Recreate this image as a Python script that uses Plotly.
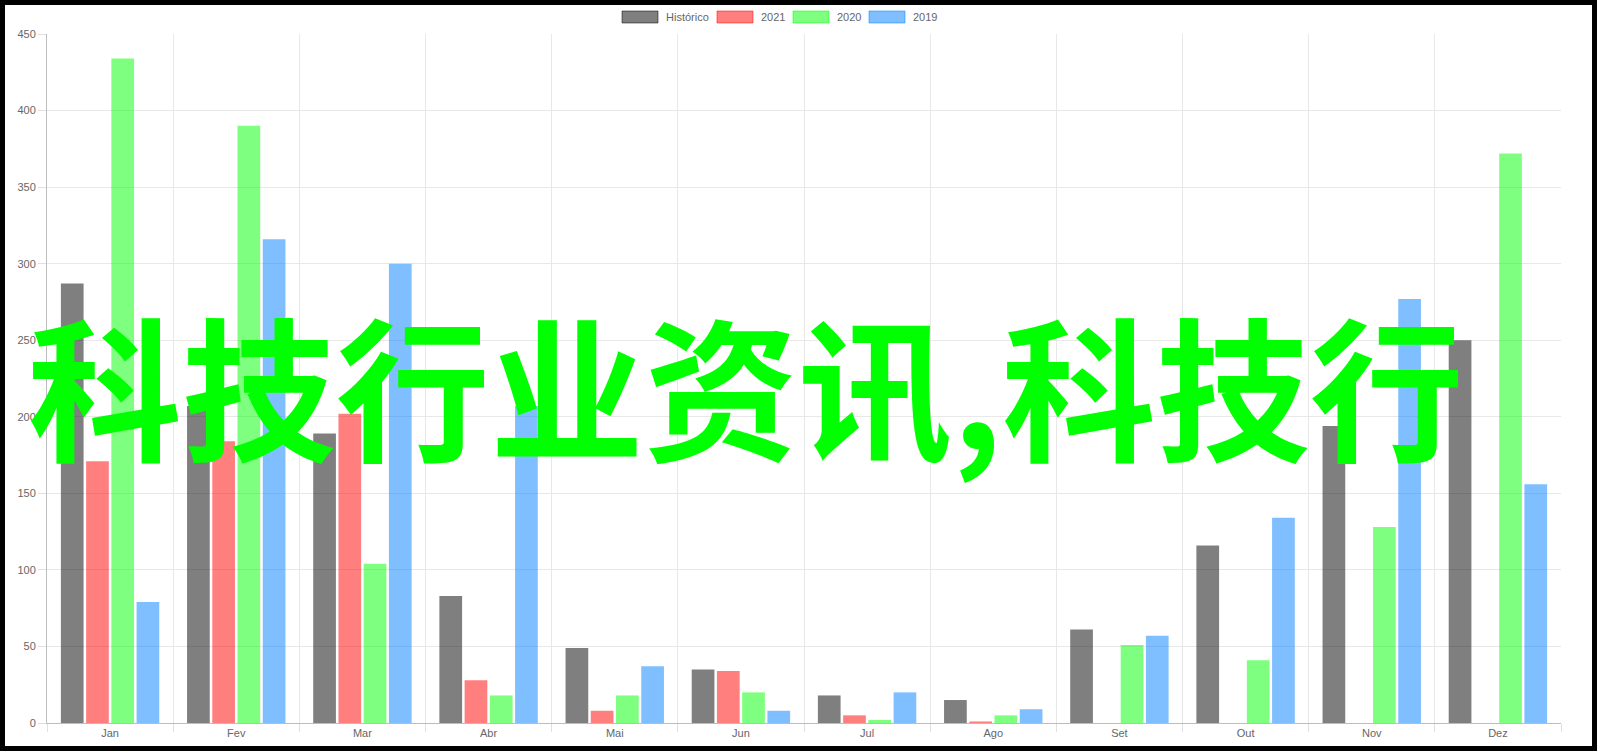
import plotly.graph_objects as go

months = ["Jan", "Fev", "Mar", "Abr", "Mai", "Jun", "Jul", "Ago", "Set", "Out", "Nov", "Dez"]

historico = [287, 207, 189, 83, 49, 35, 18, 15, 61, 116, 194, 250]
ano_2021 = [171, 184, 202, 28, 8, 34, 5, 1, 0, 0, 0, 0]
ano_2020 = [434, 390, 104, 18, 18, 20, 2, 5, 51, 41, 128, 372]
ano_2019 = [79, 316, 300, 207, 37, 8, 20, 9, 57, 134, 277, 156]

series_names = ["Histórico", "2021", "2020", "2019"]
overlay_text = "科技行业资讯,科技行"

colors = ["rgba(0,0,0,0.5)", "rgba(255,0,0,0.5)", "rgba(0,255,0,0.5)", "rgba(0,127,255,0.5)"]

W, H = 1597, 751
ML, MR, MT, MB = 47, 36, 34, 28
PW, PH = W - ML - MR, H - MT - MB


def px(x):
    return (x - ML) / PW


def py(y):
    return 1 - (y - MT) / PH


fig = go.Figure()
for name, vals, color in zip(series_names, [historico, ano_2021, ano_2020, ano_2019], colors):
    fig.add_trace(go.Bar(x=months, y=vals, name=name, showlegend=False,
                         marker=dict(color=color, line=dict(width=0))))

fig.update_layout(
    width=W, height=H,
    margin=dict(l=ML, r=MR, t=MT, b=MB),
    paper_bgcolor="#ffffff",
    plot_bgcolor="#ffffff",
    barmode="group",
    bargap=0.2,
    bargroupgap=0.1,
    font=dict(family="Liberation Sans, Arial, sans-serif", size=11, color="#666666"),
    xaxis=dict(tickson="boundaries", showgrid=True, gridcolor="#e8e8e8",
               ticks="outside", ticklen=8, tickcolor="#e0e0e0",
               showline=True, linecolor="#bdbdbd", linewidth=1),
    yaxis=dict(range=[0, 450], dtick=50, showgrid=True, gridcolor="#e8e8e8",
               ticks="outside", ticklen=8, tickcolor="#e0e0e0",
               showline=True, linecolor="#bdbdbd", linewidth=1,
               zeroline=True, zerolinecolor="#bdbdbd", zerolinewidth=1),
)

# legend drawn by hand (wide colour boxes like the original)
box_x = [622, 717, 793, 869]
for name, color, bx in zip(series_names, colors, box_x):
    fig.add_shape(type="rect", xref="paper", yref="paper",
                  x0=px(bx), x1=px(bx + 36), y0=py(23), y1=py(11),
                  fillcolor=color, line=dict(color=color, width=1))
    fig.add_annotation(text=name, xref="paper", yref="paper",
                       x=px(bx + 42), xanchor="left", y=py(17), yanchor="middle",
                       showarrow=False, font=dict(size=11, color="#666666"))

# big green overlay text
fig.add_annotation(text=overlay_text, xref="paper", yref="paper",
                   x=px(26), xanchor="left", y=py(383), yanchor="middle",
                   showarrow=False,
                   font=dict(family="Noto Sans CJK SC", size=154, color="#00ff00", weight="bold"))

# black frame round the picture
fig.add_shape(type="rect", xref="paper", yref="paper",
              x0=px(2.5), x1=px(W - 2.5), y0=py(H - 2.5), y1=py(2.5),
              line=dict(color="#000000", width=5), fillcolor="rgba(0,0,0,0)")

fig.write_html("out.html", config={"displayModeBar": False},
               post_script="document.body.style.margin='0';")
